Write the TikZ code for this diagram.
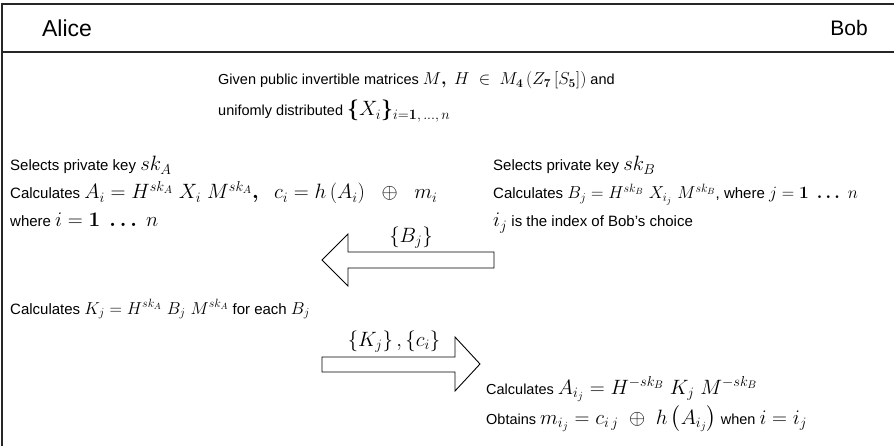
\documentclass[tikz,border=0pt]{standalone}
\usepackage{amsmath,amssymb,bm}
\usepackage[no-math]{fontspec}
\setmainfont{Liberation Sans}
\usepackage{tikz}
\usetikzlibrary{positioning}

%% math set larger than the running text
\newcommand{\mth}[2][20]{{\fontsize{#1}{#1}\selectfont$#2$}}

\begin{document}
\begin{tikzpicture}[x=1pt,y=-1pt,
    frameline/.style={draw=black!85, line width=1.3pt},
    hdr/.style={font=\fontsize{21}{24}\selectfont, inner sep=0},
    txt/.style={anchor=base west, inner sep=0, font=\fontsize{15}{18}\selectfont},
    gtxt/.style={anchor=base west, inner sep=0, font=\fontsize{14.5}{17}\selectfont},
    arrlabel/.style={inner sep=0},
    blockarrow/.style={draw=black, line width=0.9pt, fill=white, line join=miter}]
  \useasboundingbox (0,0) rectangle (894,446);
  %% Frame and header
  \draw[frameline] (894,4) -- (2,4) -- (2,446);
  \draw[frameline] (2,52) -- (894,52);
  \node[hdr, font=\fontsize{23}{26}\selectfont] (alice) at (67,28) {Alice};
  \node[hdr] (bob) at (849,28) {Bob};
  %% Public parameters
  \node[gtxt] (given) at (218,85)
    {Given public invertible matrices \mth[16.5]{M\boldsymbol{,}\ H\ \in\ M_{\mathbf{4}}\left(Z_{\mathbf{7}}\left[S_{\mathbf{5}}\right]\right)} and};
  \node[gtxt] (unif) at (218,116)
    {unifomly distributed \mth[21]{\boldsymbol{\{}X_i\boldsymbol{\}}_{i=\mathbf{1},\,\ldots,\,n}}};
  %% Alice, first step
  \node[txt] (selA) at (10,171) {Selects private key \mth{sk_A}};
  \node[txt] (calcA) at (10,199)
    {Calculates \mth[21.5]{A_i = H^{sk_A}\ X_i\ M^{sk_A}\boldsymbol{,}\ \ c_i = h\left(A_i\right)\ \ \oplus\ \ m_i}};
  \node[txt] (rangeA) at (10,227) {where \mth{i = \mathbf{1}\ \boldsymbol{\ldots}\ n}};
  %% Bob, first step
  \node[txt] (selB) at (493,171) {Selects private key \mth{sk_B}};
  \node[txt] (calcB) at (493,199)
    {Calculates \mth[18.5]{B_j = H^{sk_B}\ X_{i_j}\ M^{sk_B}}, where \mth[18.5]{j = \mathbf{1}\ \boldsymbol{\ldots}\ n}};
  \node[txt] (idxB) at (493,227) {\mth{i_j} is the index of Bob's choice};
  %% Bob -> Alice
  \draw[blockarrow] (494,252) -- (348,252) -- (348,234) -- (322,260)
    -- (348,286) -- (348,268) -- (494,268) -- cycle;
  \node[arrlabel] (bj) at (411,238) {\mth{\left\{B_j\right\}}};
  %% Alice, second step
  \node[txt] (calcK) at (10,314)
    {Calculates \mth[18]{K_j = H^{sk_A}\ B_j\ M^{sk_A}} for each \mth[18]{B_j}};
  %% Alice -> Bob
  \draw[blockarrow] (322,357) -- (455,357) -- (455,337) -- (480,364)
    -- (455,391) -- (455,372) -- (322,372) -- cycle;
  \node[arrlabel] (kc) at (394,342) {\mth{\left\{K_j\right\},\left\{c_i\right\}}};
  %% Bob, second step
  \node[gtxt] (calcAij) at (486,394)
    {Calculates \mth[21.5]{A_{i_j} = H^{-sk_B}\ K_j\ M^{-sk_B}}};
  \node[gtxt] (obt) at (486,424)
    {Obtains \mth[21.5]{m_{i_j} = c_{i\,j}\ \oplus\ h\left(A_{i_j}\right)} when \mth[21.5]{i = i_j}};
\end{tikzpicture}
\end{document}
